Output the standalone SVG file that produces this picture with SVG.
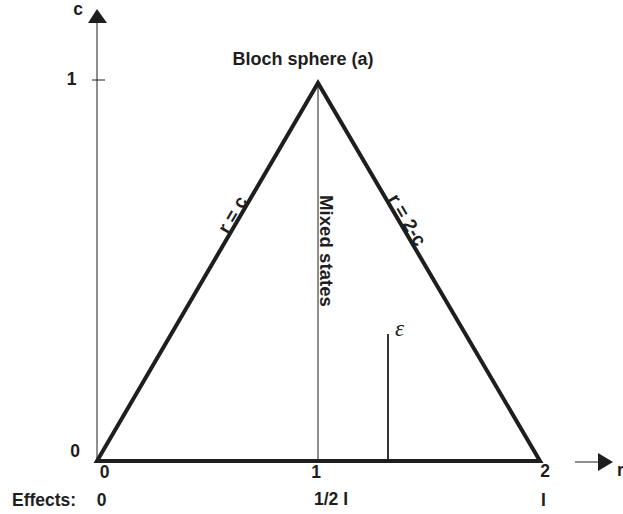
<svg xmlns="http://www.w3.org/2000/svg" width="623" height="514" viewBox="0 0 623 514">
<style>
.t{font-family:"Liberation Sans",Arial,sans-serif;font-weight:bold;font-size:17.5px;fill:#1e1e1e}
.thin{stroke:#1e1e1e;stroke-width:1;fill:none}
.thick{stroke:#1e1e1e;stroke-width:4;fill:none;stroke-linejoin:miter}
.head{fill:#1e1e1e}
</style>
<rect width="623" height="514" fill="#ffffff"/>
<g id="axes">
<line class="thin" x1="97" y1="22" x2="97" y2="461"/>
<polygon class="head" points="97,9 88,23 107,23"/>
<line class="thin" x1="92" y1="80" x2="105" y2="80"/>
<line class="thin" x1="575" y1="462" x2="600" y2="462"/>
<polygon class="head" points="613,462 598,453 598,471"/>
</g>
<g id="triangle">
<polygon class="thick" points="97,461 318,83 540,461"/>
</g>
<g id="lines">
<line class="thin" x1="318" y1="83" x2="318" y2="461" stroke-width="1.2"/>
<line class="thin" x1="388" y1="334" x2="388" y2="461" style="stroke-width:1.8"/>
</g>
<g id="labels">
<text class="t" x="78" y="15" text-anchor="middle">c</text>
<text class="t" x="71.5" y="85" text-anchor="middle">1</text>
<text class="t" x="75" y="457" text-anchor="middle">0</text>
<text class="t" x="104.5" y="478" text-anchor="middle">0</text>
<text class="t" x="316" y="478" text-anchor="middle">1</text>
<text class="t" x="545" y="477" text-anchor="middle">2</text>
<text class="t" x="12" y="506">Effects:</text>
<text class="t" x="101.5" y="506" text-anchor="middle">0</text>
<text class="t" x="314" y="505">1/2 I</text>
<text class="t" x="543.5" y="506" text-anchor="middle">I</text>
<text class="t" x="617" y="476">r</text>
<text class="t" x="303" y="65" text-anchor="middle" style="font-size:18px">Bloch sphere (a)</text>
<text class="t" transform="translate(320,195) rotate(90)" style="font-size:18px" textLength="112" lengthAdjust="spacingAndGlyphs">Mixed states</text>
<text class="t" transform="translate(238,218) rotate(-59.7)" text-anchor="middle" style="font-size:19px">r = c</text>
<text class="t" transform="translate(401.7,223.2) rotate(59.6)" text-anchor="middle" style="font-size:19px">r = 2-c</text>
<text x="395" y="336" style="font-family:'Liberation Serif',serif;font-style:italic;font-size:23px;fill:#1e1e1e">ε</text>
</g>
</svg>
